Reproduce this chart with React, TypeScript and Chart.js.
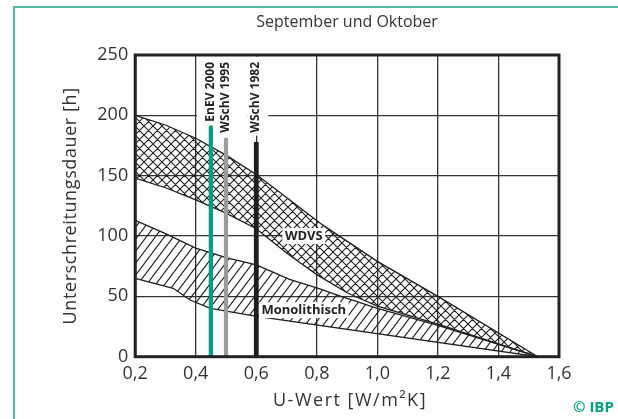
import React, { useEffect, useRef } from 'react';
import { Chart, registerables } from 'chart.js';
Chart.register(...registerables);

// ---------- data ----------
const xTickValues = [0.2, 0.4, 0.6, 0.8, 1.0, 1.2, 1.4, 1.6];
const xTickLabels = ['0,2', '0,4', '0,6', '0,8', '1,0', '1,2', '1,4', '1,6'];
const yTickValues = [0, 50, 100, 150, 200, 250];

// WDVS band (cross hatched)
const wdvsUpperU = [0.2, 0.3, 0.4, 0.5, 0.6, 0.7, 0.82, 1.0, 1.2, 1.53];
const wdvsUpperH = [200, 192, 181, 167, 151, 132, 109, 79, 50, 0];
const wdvsLowerU = [0.2, 0.3, 0.4, 0.5, 0.6, 0.7, 0.8, 0.9, 1.0, 1.2, 1.53];
const wdvsLowerH = [148, 140, 130, 119, 106, 86, 68, 53, 42, 27, 0];

// Monolithisch band (diagonal hatched)
const monoUpperU = [0.2, 0.3, 0.4, 0.5, 0.6, 0.71, 0.8, 0.88, 1.0, 1.2, 1.53];
const monoUpperH = [113, 102, 90, 82, 76, 64, 57, 50, 40, 26, 0];
const monoLowerU = [0.2, 0.326, 0.381, 0.448, 0.607, 1.53];
const monoLowerH = [65, 56.7, 47, 40, 33.2, 0];

// reference U-values (vertical lines)
const refNames = ['EnEV 2000', 'WSchV 1995', 'WSchV 1982'];
const refU = [0.45, 0.5, 0.6];
const refTop = [190, 180, 178];

const bandNames = ['WDVS', 'Monolithisch'];

const title = 'September und Oktober';
const xTitle = 'U-Wert [W/m²K]';
const yTitle = 'Unterschreitungsdauer [h]';

// ---------- styles ----------
const FONT = '"Open Sans", "DejaVu Sans", sans-serif';
const TEXT = '#333333';
const refColors = ['#00a084', '#9c9ca0', '#1e1e1e'];
const refWidths = [4.3, 4.2, 4.8];
const refCaps = ['round', 'round', 'butt'];

const pts = (u: number[], h: number[]) => u.map((v, i) => ({ x: v, y: h[i] }));

function makeDiag(): CanvasPattern | string {
  const w = 9, h = 12;
  const c = document.createElement('canvas');
  c.width = w; c.height = h;
  const g = c.getContext('2d');
  if (!g) return '#888';
  g.strokeStyle = '#1e1e1e';
  g.lineWidth = 1.1;
  g.beginPath();
  g.moveTo(-w, 2 * h); g.lineTo(2 * w, -h);
  g.moveTo(-2 * w, 2 * h); g.lineTo(w, -h);
  g.moveTo(0, 2 * h); g.lineTo(3 * w, -h);
  g.stroke();
  return g.createPattern(c, 'repeat') || '#888';
}

function makeCross(): CanvasPattern | string {
  const s = 9;
  const c = document.createElement('canvas');
  c.width = s; c.height = s;
  const g = c.getContext('2d');
  if (!g) return '#888';
  g.strokeStyle = '#1e1e1e';
  g.lineWidth = 1.1;
  g.beginPath();
  for (let k = -1; k <= 1; k++) {
    g.moveTo(k * s - s, -s); g.lineTo(k * s + 2 * s, 2 * s);
    g.moveTo(k * s - s, 2 * s); g.lineTo(k * s + 2 * s, -s);
  }
  g.stroke();
  return g.createPattern(c, 'repeat') || '#888';
}

const decorPlugin = {
  id: 'decor',
  beforeDatasetsDraw(chart: any) {
    const { ctx, chartArea, scales } = chart;
    const x = scales.x;
    ctx.save();
    ctx.font = `bold 12px ${FONT}`;
    ctx.fillStyle = '#ffffff';
    const px = refU.map((u) => x.getPixelForValue(u));
    refNames.forEach((name, i) => {
      const len = ctx.measureText(name).width;
      const left = i === 0 ? px[i] - 14 : px[i] - 9;
      const right = i < refNames.length - 1 ? px[i + 1] - 9 : px[i] + 12;
      const bottom = chartArea.top + 7 + len + 3;
      ctx.fillRect(left, chartArea.top + 1.5, right - left, bottom - chartArea.top - 1.5);
    });
    ctx.restore();
  },
  afterDatasetsDraw(chart: any) {
    const { ctx, chartArea, scales } = chart;
    const x = scales.x, y = scales.y;
    ctx.save();
    // vertical labels
    ctx.font = `bold 12px ${FONT}`;
    ctx.fillStyle = '#222222';
    refNames.forEach((name, i) => {
      ctx.save();
      ctx.translate(x.getPixelForValue(refU[i]) - 0.5, chartArea.top + 7);
      ctx.rotate(-Math.PI / 2);
      ctx.textAlign = 'right';
      ctx.textBaseline = 'middle';
      ctx.fillText(name, 0, 0);
      ctx.restore();
    });
    // band labels
    const anchors = [
      { u: 0.757, h: 100 },
      { u: 0.757, h: 38.6 },
    ];
    ctx.font = `bold 13px ${FONT}`;
    bandNames.forEach((name, i) => {
      const cx = x.getPixelForValue(anchors[i].u);
      const cy = y.getPixelForValue(anchors[i].h);
      const w = ctx.measureText(name).width;
      ctx.fillStyle = '#ffffff';
      ctx.fillRect(cx - w / 2 - 2.5, cy - 8, w + 5, 16);
      ctx.fillStyle = '#222222';
      ctx.textAlign = 'center';
      ctx.textBaseline = 'middle';
      ctx.fillText(name, cx, cy + 0.5);
    });
    // frame
    ctx.strokeStyle = '#222222';
    ctx.lineWidth = 3;
    ctx.strokeRect(chartArea.left, chartArea.top, chartArea.right - chartArea.left, chartArea.bottom - chartArea.top);
    ctx.restore();
  },
  afterDraw(chart: any) {
    const { ctx, chartArea } = chart;
    ctx.save();
    ctx.fillStyle = TEXT;
    ctx.textAlign = 'center';
    ctx.textBaseline = 'middle';
    ctx.font = `16px ${FONT}`;
    ctx.fillText(title, (chartArea.left + chartArea.right) / 2, 22);
    ctx.font = `18px ${FONT}`;
    try { (ctx as any).letterSpacing = '1.5px'; } catch (e) {}
    ctx.fillText(xTitle, 350, 401);
    try { (ctx as any).letterSpacing = '0.6px'; } catch (e) {}
    ctx.save();
    ctx.translate(71, (chartArea.top + chartArea.bottom) / 2);
    ctx.rotate(-Math.PI / 2);
    ctx.fillText(yTitle, 0, 0);
    ctx.restore();
    try { (ctx as any).letterSpacing = '0px'; } catch (e) {}
    // teal frame
    ctx.strokeStyle = '#52bea6';
    ctx.lineWidth = 2;
    ctx.beginPath();
    ctx.moveTo(14, 419);
    ctx.lineTo(14, 7);
    ctx.lineTo(618, 7);
    ctx.stroke();
    // copyright
    ctx.fillStyle = '#00a07c';
    ctx.font = `bold 15px ${FONT}`;
    ctx.textAlign = 'left';
    ctx.fillText('© IBP', 573, 408);
    ctx.restore();
  },
};

export default function App() {
  const ref = useRef<HTMLCanvasElement | null>(null);
  useEffect(() => {
    if (!ref.current) return;
    const cross = makeCross();
    const diag = makeDiag();
    const refSets = refNames.map((name, i) => ({
      label: name,
      data: [{ x: refU[i], y: 0 }, { x: refU[i], y: refTop[i] }],
      borderColor: refColors[i],
      borderWidth: refWidths[i],
      borderCapStyle: refCaps[i],
      pointRadius: 0,
      fill: false,
    }));
    const band = (data: any, fill: any, bg: any) => ({
      data,
      borderColor: '#1e1e1e',
      borderWidth: 1.3,
      pointRadius: 0,
      tension: 0,
      fill,
      backgroundColor: bg,
    });
    const chart = new Chart(ref.current, {
      type: 'line',
      data: {
        datasets: [
          ...refSets,
          band(pts(wdvsUpperU, wdvsUpperH), '+1', cross),
          band(pts(wdvsLowerU, wdvsLowerH), false, 'transparent'),
          band(pts(monoUpperU, monoUpperH), '+1', diag),
          band(pts(monoLowerU, monoLowerH), false, 'transparent'),
        ] as any,
      },
      options: {
        animation: false,
        responsive: false,
        maintainAspectRatio: false,
        events: [],
        layout: { padding: { top: 55, right: 59, left: 0, bottom: 0 } },
        plugins: {
          legend: { display: false },
          tooltip: { enabled: false },
          title: { display: false },
        },
        scales: {
          x: {
            type: 'linear',
            min: 0.2,
            max: 1.6,
            afterBuildTicks: (s: any) => {
              s.ticks = xTickValues.map((v) => ({ value: v }));
            },
            afterFit: (s: any) => {
              s.height = 62.3;
            },
            ticks: {
              autoSkip: false,
              maxRotation: 0,
              padding: 6,
              color: TEXT,
              font: { family: FONT, size: 18 },
              callback: (_v: any, i: number) => xTickLabels[i],
            },
            grid: { color: '#333333', lineWidth: 1.3, drawTicks: false },
            border: { display: false },
          },
          y: {
            type: 'linear',
            min: 0,
            max: 250,
            afterBuildTicks: (s: any) => {
              s.ticks = yTickValues.map((v) => ({ value: v }));
            },
            afterFit: (s: any) => {
              s.width = 135.2;
            },
            ticks: {
              padding: 7,
              color: TEXT,
              font: { family: FONT, size: 18 },
              callback: (v: any) => String(v),
            },
            grid: { color: '#333333', lineWidth: 1.3, drawTicks: false },
            border: { display: false },
          },
        },
      },
      plugins: [decorPlugin],
    });
    return () => chart.destroy();
  }, []);
  return (
    <div style={{ position: 'absolute', left: 0, top: 0, width: 618, height: 419, background: '#fff' }}>
      <canvas ref={ref} width={618} height={419} style={{ display: 'block' }} />
    </div>
  );
}
